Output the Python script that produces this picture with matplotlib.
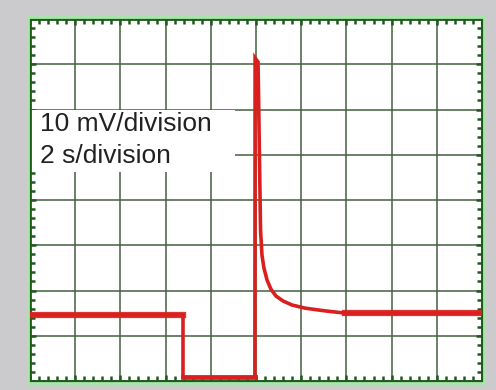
import matplotlib
matplotlib.use("Agg")
import matplotlib.pyplot as plt
from matplotlib.patches import Rectangle
from matplotlib.ticker import MultipleLocator

# Oscilloscope trace: time (s) and voltage (mV)
time_s = [0.0, 6.77, 6.77, 9.95, 9.96, 10.09, 10.11, 10.155, 10.20, 10.265,
          10.35, 10.49, 10.66, 10.88, 11.19, 11.59, 12.17, 13.05, 13.94, 20.0]
volt_mv = [14.6, 14.6, 0.8, 0.8, 71.4, 70.5, 64.3, 48.8, 33.4, 27.8,
           25.0, 22.3, 20.3, 18.8, 17.7, 16.8, 16.1, 15.5, 15.0, 15.0]

scale_labels = ["10 mV/division", "2 s/division"]

W, H = 496, 390
fig = plt.figure(figsize=(W / 100, H / 100), dpi=100)
fig.patch.set_facecolor("#cbcbcd")

left, right, top, bottom = 30, 482, 19, 381
ax = fig.add_axes([left / W, 1 - bottom / H, (right - left) / W, (bottom - top) / H])
ax.set_facecolor("white")
ax.set_xlim(0, 20)
ax.set_ylim(0, 80)

# outer light-green rim around the screen frame
rim = Rectangle(((left - 2) / W, 1 - (bottom + 2) / H), (right - left + 4) / W,
                (bottom - top + 4) / H, transform=fig.transFigure,
                fill=False, edgecolor="#a8e6a8", lw=2.0, zorder=0)
fig.patches.append(rim)

frame_col = "#1e5a1e"
for sp in ax.spines.values():
    sp.set_color(frame_col)
    sp.set_linewidth(2.0)

ax.xaxis.set_major_locator(MultipleLocator(2))
ax.yaxis.set_major_locator(MultipleLocator(10))
ax.xaxis.set_minor_locator(MultipleLocator(0.4))
ax.yaxis.set_minor_locator(MultipleLocator(2))
ax.tick_params(which="both", direction="in", top=True, right=True,
               labelbottom=False, labelleft=False, color=frame_col)
ax.tick_params(which="major", length=4, width=1.8)
ax.tick_params(which="minor", length=3.5, width=1.8)
ax.grid(True, which="major", color="#42603f", lw=1.1)
ax.set_axisbelow(True)

# scale annotation box
ax.add_patch(Rectangle((0, 46.2), 9.07, 13.6, facecolor="white", edgecolor="none", zorder=2))
ax.text(0.45, 55.3, scale_labels[0], fontsize=19, family="Liberation Sans",
        color="#222222", va="baseline", ha="left", zorder=3)
ax.text(0.45, 48.2, scale_labels[1], fontsize=19, family="Liberation Sans",
        color="#222222", va="baseline", ha="left", zorder=3)

red = "#d9201e"
ax.plot(time_s, volt_mv, color=red, lw=2.6, zorder=4, solid_joinstyle="miter")
# noisy baseline band
ax.plot(time_s[:2], volt_mv[:2], color=red, lw=4.5, alpha=0.9, zorder=4)
ax.plot(time_s[2:4], volt_mv[2:4], color=red, lw=3.5, alpha=0.9, zorder=4)
ax.plot(time_s[-2:], volt_mv[-2:], color=red, lw=4.5, alpha=0.9, zorder=4)

fig.savefig("out.png", dpi=100, facecolor=fig.get_facecolor())
